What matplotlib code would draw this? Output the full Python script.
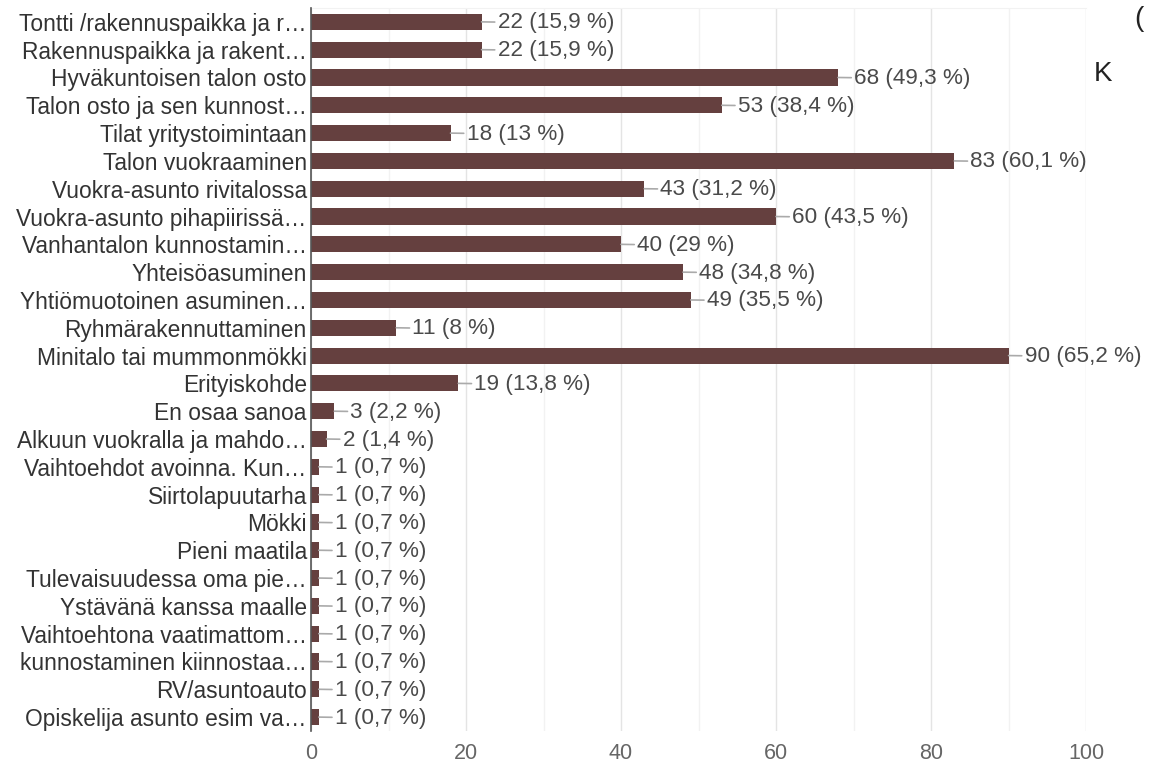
import matplotlib
matplotlib.use("Agg")
import matplotlib.pyplot as plt
from matplotlib.ticker import MultipleLocator

plt.rcParams["font.family"] = ["Liberation Sans", "DejaVu Sans"]

categories = [
    "Tontti /rakennuspaikka ja r…",
    "Rakennuspaikka ja rakent…",
    "Hyväkuntoisen talon osto",
    "Talon osto ja sen kunnost…",
    "Tilat yritystoimintaan",
    "Talon vuokraaminen",
    "Vuokra-asunto rivitalossa",
    "Vuokra-asunto pihapiirissä…",
    "Vanhantalon kunnostamin…",
    "Yhteisöasuminen",
    "Yhtiömuotoinen asuminen…",
    "Ryhmärakennuttaminen",
    "Minitalo tai mummonmökki",
    "Erityiskohde",
    "En osaa sanoa",
    "Alkuun vuokralla ja mahdo…",
    "Vaihtoehdot avoinna. Kun…",
    "Siirtolapuutarha",
    "Mökki",
    "Pieni maatila",
    "Tulevaisuudessa oma pie…",
    "Ystävänä kanssa maalle",
    "Vaihtoehtona vaatimattom…",
    "kunnostaminen kiinnostaa…",
    "RV/asuntoauto",
    "Opiskelija asunto esim va…",
]
counts = [22, 22, 68, 53, 18, 83, 43, 60, 40, 48, 49, 11, 90, 19, 3, 2,
          1, 1, 1, 1, 1, 1, 1, 1, 1, 1]
percents = ["15,9", "15,9", "49,3", "38,4", "13", "60,1", "31,2", "43,5", "29",
            "34,8", "35,5", "8", "65,2", "13,8", "2,2", "1,4",
            "0,7", "0,7", "0,7", "0,7", "0,7", "0,7", "0,7", "0,7", "0,7", "0,7"]
x_ticks = [0, 20, 40, 60, 80, 100]

fig = plt.figure(figsize=(11.49, 7.66), dpi=100)
ax = fig.add_axes([0.2707, 0.0457, 0.9452 - 0.2707, 0.9896 - 0.0457])

ypos = list(range(len(categories)))
ax.barh(ypos, counts, height=0.58, color="#65403f", zorder=3)

for y, c, p in zip(ypos, counts, percents):
    ax.annotate(f"{c} ({p} %)", xy=(c, y), xytext=(16, -1),
                textcoords="offset pixels", va="center", ha="left",
                fontsize=16.2, color="#4a4a4a",
                arrowprops=dict(arrowstyle="-", color="#aaaaaa", lw=1.2,
                                shrinkA=0, shrinkB=0))

ax.set_xlim(0, 100)
ax.set_ylim(len(categories) - 0.5, -0.5)
ax.set_yticks(ypos)
ax.set_yticklabels(categories, fontsize=16.4, color="#333333")
ax.set_xticks(x_ticks)
ax.set_xticklabels([str(t) for t in x_ticks], fontsize=15.5, color="#666666")
ax.xaxis.set_minor_locator(MultipleLocator(10))
ax.tick_params(axis="both", which="both", length=0)
ax.tick_params(axis="x", pad=9)
ax.tick_params(axis="y", pad=3)
ax.grid(axis="x", which="major", color="#e4e4e4", lw=1, zorder=0)
ax.grid(axis="x", which="minor", color="#f2f2f2", lw=1, zorder=0)
for s in ["right", "bottom"]:
    ax.spines[s].set_visible(False)
ax.spines["top"].set_color("#f2f2f2")
ax.spines["left"].set_color("#555555")
ax.spines["left"].set_linewidth(1.2)
ax.spines["left"].set_zorder(4)

fig.text(0.952, 0.903, "K", fontsize=20, color="#222222", ha="left", va="center")
fig.text(0.987, 0.975, "(", fontsize=20, color="#222222", ha="left", va="center")

fig.savefig("out.png", dpi=100)
